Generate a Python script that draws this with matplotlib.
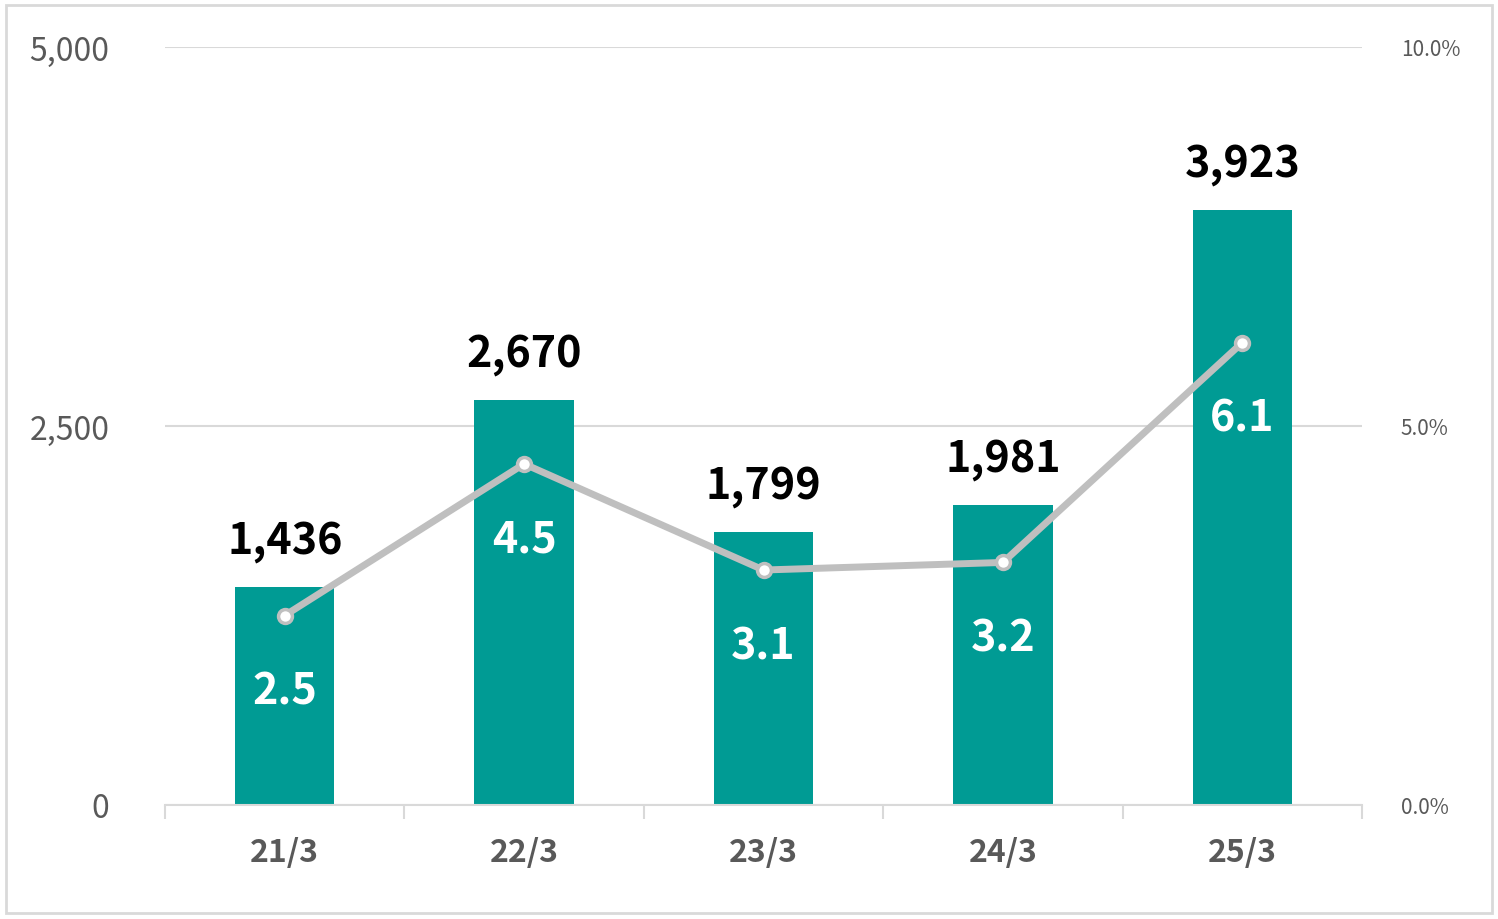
import matplotlib
matplotlib.use("Agg")
import matplotlib.pyplot as plt
from matplotlib.patches import Rectangle

categories = ["21/3", "22/3", "23/3", "24/3", "25/3"]
values = [1436, 2670, 1799, 1981, 3923]
ratios = [2.5, 4.5, 3.1, 3.2, 6.1]
left_ticks = [0, 2500, 5000]
left_labels = ["0", "2,500", "5,000"]
right_ticks = [0, 5, 10]
right_labels = ["0.0%", "5.0%", "10.0%"]

plt.rcParams["font.family"] = "Noto Sans CJK JP"
fig = plt.figure(figsize=(14.98, 9.20), dpi=100)
fig.patches.append(Rectangle((0.004, 0.006), 0.992, 0.988, transform=fig.transFigure,
                             fill=False, edgecolor="#d9d9d9", linewidth=2))
ax = fig.add_axes([165/1498, 1-806/920, (1362-165)/1498, (806-48)/920])
x = range(len(categories))
ax.bar(x, values, width=0.415, color="#009B94", zorder=2)
ax.set_xlim(-0.5, 4.5)
ax.set_ylim(0, 5000)
ax.set_yticks(left_ticks)
ax.set_yticklabels(left_labels, fontsize=23, color="#595959")
ax.grid(axis="y", color="#d9d9d9", linewidth=1.5, zorder=0)
ax.set_xticks(list(x))
ax.set_xticklabels(categories, fontsize=23, fontweight="bold", color="#595959")
ax.tick_params(axis="x", length=0, pad=22)
ax.tick_params(axis="y", length=0, pad=40)
ax.set_xticks([i - 0.5 for i in range(6)], minor=True)
ax.tick_params(axis="x", which="minor", length=10, width=1.5, color="#d9d9d9")
for s in ["top", "left", "right"]:
    ax.spines[s].set_visible(False)
ax.spines["bottom"].set_color("#d9d9d9")
ax.spines["bottom"].set_linewidth(1.5)
for i, v in enumerate(values):
    ax.annotate(f"{v:,}", (i, v), xytext=(0, 18), textcoords="offset points",
                ha="center", va="bottom", fontsize=31, fontweight="bold", color="black")

ax2 = ax.twinx()
ax2.set_ylim(0, 10)
ax2.set_yticks(right_ticks)
ax2.set_yticklabels(right_labels, fontsize=15, color="#595959")
ax2.tick_params(axis="y", length=0, pad=28)
for s in ax2.spines.values():
    s.set_visible(False)
ax2.plot(list(x), ratios, color="#bfbfbf", linewidth=5, marker="o", markersize=10,
         markerfacecolor="white", markeredgecolor="#bfbfbf", markeredgewidth=2.5, zorder=3)
for i, r in enumerate(ratios):
    ax2.annotate(f"{r:.1f}", (i, r), xytext=(0, -54), textcoords="offset points",
                 ha="center", va="center", fontsize=31, fontweight="bold", color="white")
fig.savefig("out.png", dpi=100)
